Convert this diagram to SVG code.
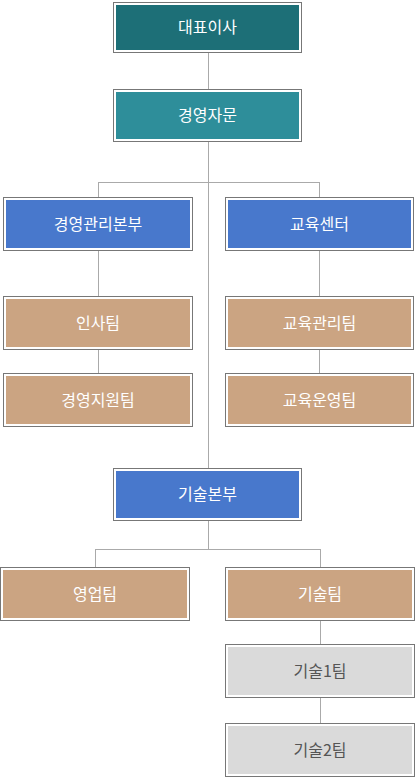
<svg xmlns="http://www.w3.org/2000/svg" width="415" height="778" viewBox="0 0 415 778">
<style>
.o{fill:#fff;stroke:#777;stroke-width:1}
.t{font-family:"Noto Sans CJK KR","Noto Sans",sans-serif;font-size:16px;text-anchor:middle;fill:#fff}
.d{fill:#555}
.c1{fill:#1d6f77}.c2{fill:#2e8e9a}.c3{fill:#4878cc}.c4{fill:#cba482}.c5{fill:#dadada}
#conn path{fill:none;stroke:#aaa;stroke-width:1}
</style>
<g id="conn">
<path d="M208.5 53V468M98.5 182.5H319.5M98.5 182V197M319.5 182V197M98.5 251V296M98.5 349V373M319.5 251V296M319.5 349V373M208.5 521V549.5M95.5 549.5H320.5M95.5 549V567M320.5 549V567M320.5 621V644M320.5 698V723"/>
</g>
<g id="n1"><rect class="o" x="113.5" y="2.5" width="188" height="50"/><rect class="c1" x="116" y="5" width="183" height="45"/><text class="t" x="207.5" y="33">대표이사</text></g>
<g id="n2"><rect class="o" x="113.5" y="89.5" width="188" height="52"/><rect class="c2" x="116" y="92" width="183" height="47"/><text class="t" x="207.5" y="121">경영자문</text></g>
<g id="n3"><rect class="o" x="3.5" y="197.5" width="189" height="53"/><rect class="c3" x="6" y="200" width="184" height="48"/><text class="t" x="98" y="229.5">경영관리본부</text></g>
<g id="n4"><rect class="o" x="225.5" y="197.5" width="188" height="53"/><rect class="c3" x="228" y="200" width="183" height="48"/><text class="t" x="319.5" y="229.5">교육센터</text></g>
<g id="n5"><rect class="o" x="3.5" y="296.5" width="189" height="53"/><rect class="c4" x="6" y="299" width="184" height="48"/><text class="t" x="98" y="328.5">인사팀</text></g>
<g id="n6"><rect class="o" x="3.5" y="373.5" width="189" height="53"/><rect class="c4" x="6" y="376" width="184" height="48"/><text class="t" x="98" y="405.5">경영지원팀</text></g>
<g id="n7"><rect class="o" x="225.5" y="296.5" width="188" height="53"/><rect class="c4" x="228" y="299" width="183" height="48"/><text class="t" x="319.5" y="328.5">교육관리팀</text></g>
<g id="n8"><rect class="o" x="225.5" y="373.5" width="188" height="53"/><rect class="c4" x="228" y="376" width="183" height="48"/><text class="t" x="319.5" y="405.5">교육운영팀</text></g>
<g id="n9"><rect class="o" x="113.5" y="468.5" width="188" height="52"/><rect class="c3" x="116" y="471" width="183" height="47"/><text class="t" x="207.5" y="500">기술본부</text></g>
<g id="n10"><rect class="o" x="0.5" y="567.5" width="189" height="53"/><rect class="c4" x="3" y="570" width="184" height="48"/><text class="t" x="95" y="599.5">영업팀</text></g>
<g id="n11"><rect class="o" x="225.5" y="567.5" width="189" height="53"/><rect class="c4" x="228" y="570" width="184" height="48"/><text class="t" x="320" y="599.5">기술팀</text></g>
<g id="n12"><rect class="o" x="225.5" y="644.5" width="189" height="53"/><rect class="c5" x="228" y="647" width="184" height="48"/><text class="t d" x="320" y="676.5">기술1팀</text></g>
<g id="n13"><rect class="o" x="225.5" y="723.5" width="189" height="53"/><rect class="c5" x="228" y="726" width="184" height="48"/><text class="t d" x="320" y="755.5">기술2팀</text></g>
</svg>
